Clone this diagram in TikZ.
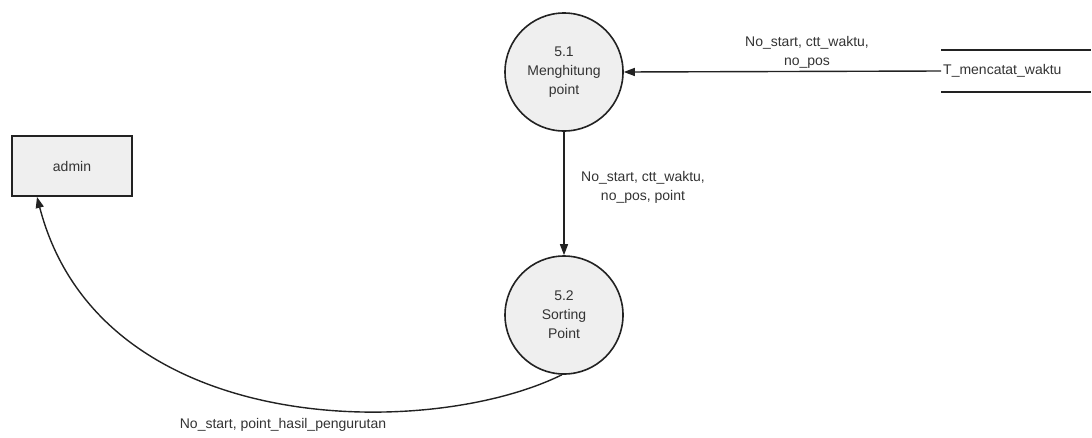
\documentclass[tikz,border=0pt]{standalone}
\usepackage{fontspec}
\setmainfont{Liberation Sans}
\usetikzlibrary{arrows.meta}
\definecolor{procfill}{HTML}{EFEFEF}
\definecolor{edgegray}{HTML}{222222}
\definecolor{textgray}{HTML}{333333}
\begin{document}
\begin{tikzpicture}[x=1pt,y=-1pt,
  every node/.style={font=\fontsize{14}{19}\selectfont, text=textgray},
  process/.style={circle, draw=edgegray, line width=1.6pt, fill=procfill,
    minimum size=118pt, inner sep=0pt, align=center},
  entity/.style={rectangle, draw=edgegray, line width=1.8pt, fill=procfill,
    minimum width=120pt, minimum height=60pt, inner sep=0pt},
  store/.style={rectangle, minimum height=42pt, text width=146pt,
    align=left, inner sep=2pt},
  flow/.style={draw=edgegray, line width=1.4pt,
    -{Triangle[length=11pt,width=8pt]}},
  flowlabel/.style={align=center, inner sep=1pt}]
\useasboundingbox (0,0) rectangle (1092,437);

% processes, external entity and data store
\node[process] (p51) at (564,72) {5.1\\Menghitung\\point};
\node[process] (p52) at (564,315) {5.2\\Sorting\\Point};
\node[entity] (admin) at (72,166) {admin};
\node[store, anchor=west] (store) at (941,71) {T\_mencatat\_waktu};
\draw[edgegray, line width=1.6pt] (store.north west) -- (store.north east);
\draw[edgegray, line width=1.6pt] (store.south west) -- (store.south east);

% data flows
\draw[flow] (store.west) -- (p51.east);
\node[flowlabel] (l1) at (807,52) {No\_start, ctt\_waktu,\\no\_pos};

\draw[flow] (p51.south) -- (p52.north);
\node[flowlabel] (l2) at (643,187) {No\_start, ctt\_waktu,\\no\_pos, point};

\draw[flow] (p52.-92) .. controls (430,440) and (100,440) .. ([xshift=-35pt]admin.south);
\node[flowlabel] (l3) at (283,425) {No\_start, point\_hasil\_pengurutan};
\end{tikzpicture}
\end{document}
